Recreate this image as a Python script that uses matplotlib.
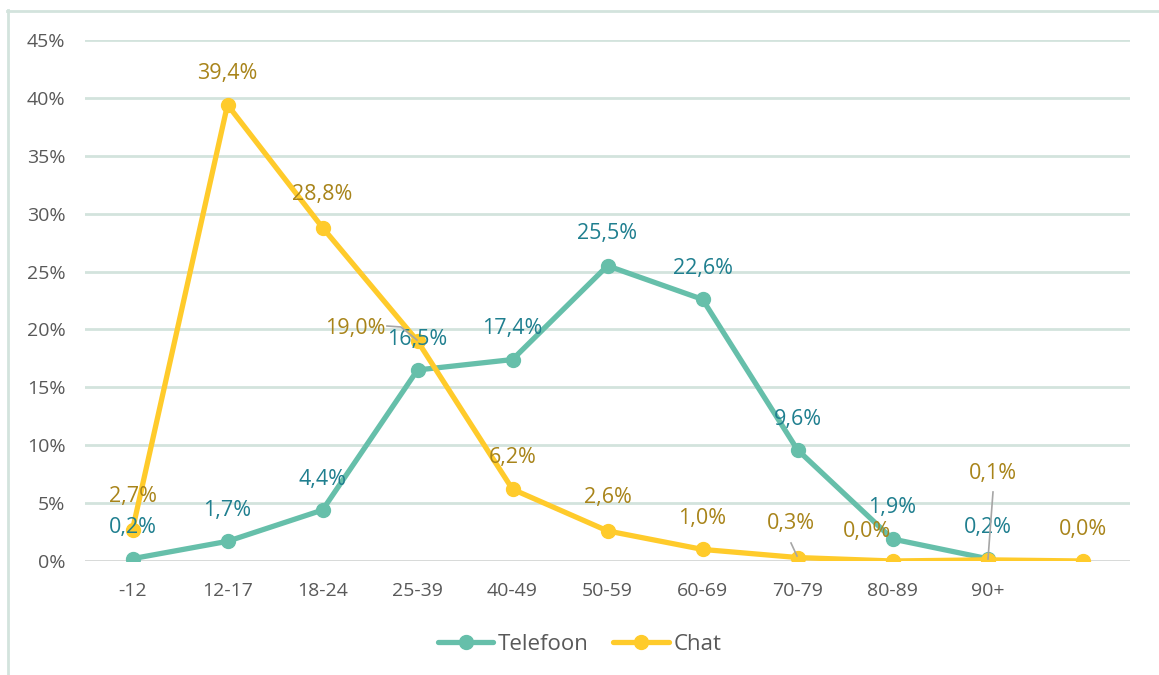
import matplotlib
matplotlib.use("Agg")
import matplotlib.pyplot as plt
from matplotlib.lines import Line2D

plt.rcParams['font.family'] = ['Open Sans', 'DejaVu Sans']

categories = ["-12", "12-17", "18-24", "25-39", "40-49", "50-59", "60-69", "70-79", "80-89", "90+", ""]
telefoon = [0.2, 1.7, 4.4, 16.5, 17.4, 25.5, 22.6, 9.6, 1.9, 0.2]
chat = [2.7, 39.4, 28.8, 19.0, 6.2, 2.6, 1.0, 0.3, 0.0, 0.1, 0.0]
yticks = [0, 5, 10, 15, 20, 25, 30, 35, 40, 45]

tel_color = "#66bfaa"
chat_color = "#ffcb2b"
tel_label_color = "#1f7f8f"
chat_label_color = "#a8841a"
grid_color = "#d3e3dd"
text_gray = "#595959"

fig = plt.figure(figsize=(11.59, 6.75), dpi=100)
ax = fig.add_axes([85/1159, 1-561/675, (1130-85)/1159, (561-40)/675])

x_tel = list(range(len(telefoon)))
x_chat = list(range(len(chat)))

ax.set_xlim(-0.5, len(categories) - 0.5)
ax.set_ylim(0, 45)
ax.set_yticks(yticks)
ax.set_yticklabels([f"{v}%" for v in yticks])
ax.set_xticks(range(len(categories)))
ax.set_xticklabels(categories)
ax.tick_params(axis='both', length=0, labelsize=14, colors=text_gray)
ax.tick_params(axis='y', pad=14)
ax.tick_params(axis='x', pad=15)
for s in ax.spines.values():
    s.set_visible(False)
ax.yaxis.grid(True, color=grid_color, linewidth=2)
ax.set_axisbelow(True)
ax.axhline(0, color="#d9d9d9", linewidth=2, zorder=1)

ax.plot(x_tel, telefoon, color=tel_color, linewidth=3.8, marker='o', markersize=10,
        label="Telefoon", solid_capstyle='round', zorder=3)
ax.plot(x_chat, chat, color=chat_color, linewidth=3.8, marker='o', markersize=10,
        label="Chat", solid_capstyle='round', zorder=4)

def fmt(v):
    return f"{v:.1f}%".replace(".", ",")

# label offsets in pixels (dx, dy)
tel_offsets = [(0, 31), (0, 31), (0, 31), (0, 30), (0, 31), (0, 32), (0, 31), (0, 30), (0, 32), (0, 31)]
chat_offsets = [(0, 33), (0, 31), (0, 33), (-62, 13), (0, 32), (0, 33), (0, 31), (-7, 34), (-25, 29), (5, 86), (0, 32)]

for xi, v, (dx, dy) in zip(x_tel, telefoon, tel_offsets):
    ax.annotate(fmt(v), (xi, v), xytext=(dx, dy), textcoords='offset pixels',
                ha='center', va='center', fontsize=15.5, color=tel_label_color, zorder=6)

for xi, v, (dx, dy) in zip(x_chat, chat, chat_offsets):
    ax.annotate(fmt(v), (xi, v), xytext=(dx, dy), textcoords='offset pixels',
                ha='center', va='center', fontsize=15.5, color=chat_label_color, zorder=6)

# leader lines
def pix_line(pts, **kw):
    xs = [p[0] / 1159 for p in pts]
    ys = [1 - p[1] / 675 for p in pts]
    fig.add_artist(Line2D(xs, ys, transform=fig.transFigure, **kw))

lk = dict(color="#a6a6a6", linewidth=1.2, zorder=7)
pix_line([(387, 326), (401, 327), (417, 340)], **lk)
pix_line([(791, 543), (797, 556)], **lk)
pix_line([(993, 492), (988, 559)], **lk)

# outer frame (top and left)
pix_line([(7, 10.5), (1159, 10.5)], color=grid_color, linewidth=2)
pix_line([(7.5, 10), (7.5, 675)], color=grid_color, linewidth=2)

leg = fig.legend(loc='center', bbox_to_anchor=(0.5, 1 - 644/675), ncol=2, frameon=False,
                 fontsize=16, handlelength=2.5, columnspacing=1.1, handletextpad=0.2)
for t in leg.get_texts():
    t.set_color(text_gray)
for h in leg.legend_handles:
    h.set_solid_capstyle('round')

fig.savefig("out.png", dpi=100)
